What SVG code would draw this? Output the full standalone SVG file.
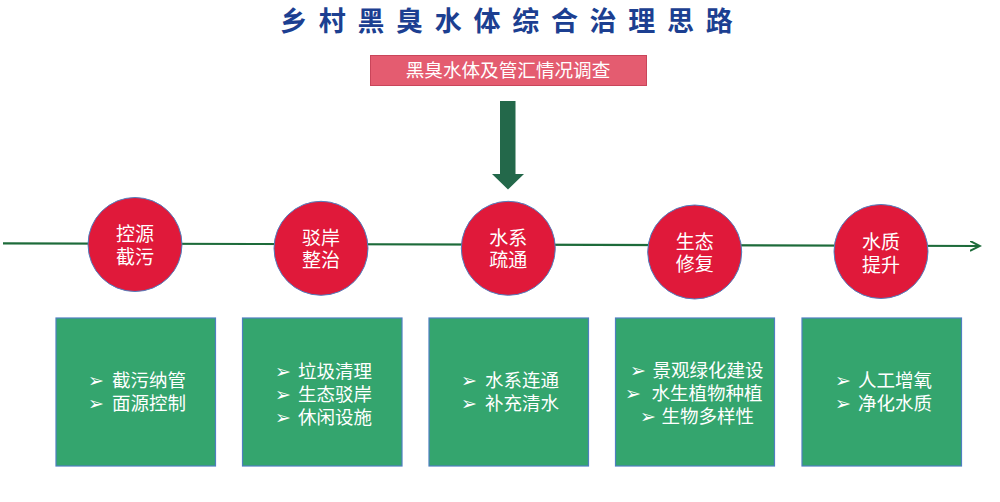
<svg xmlns="http://www.w3.org/2000/svg" width="1000" height="502" viewBox="0 0 1000 502">
<style>
.cjk{font-family:"Noto Sans CJK SC","Noto Sans",sans-serif;}
.title{font-size:27px;font-weight:bold;fill:#1c3f91;letter-spacing:11.7px;}
.ctext{font-size:19px;fill:#ffffff;text-anchor:middle;}
.btext{font-size:18.5px;fill:#ffffff;}
.bul{font-family:"DejaVu Sans",sans-serif;font-size:19px;fill:#ffffff;}
.circ{fill:#e0193a;stroke:#4f7fc0;stroke-width:1;}
.box{fill:#34a56e;stroke:#4f7fc0;stroke-width:1.2;}
</style>
<defs>
<marker id="open" markerWidth="12" markerHeight="12" refX="10" refY="5" orient="auto" markerUnits="userSpaceOnUse">
<path d="M0,0 L10,5 L0,10" fill="none" stroke="#1d6b3a" stroke-width="2"/>
</marker>
</defs>
<rect width="1000" height="502" fill="#ffffff"/>
<text id="title" class="cjk title" x="280" y="31">乡村黑臭水体综合治理思路</text>
<g id="connectors">
<line x1="3" y1="243.3" x2="980" y2="246" stroke="#1d6b3a" stroke-width="2.2" marker-end="url(#open)"/>
<polygon points="500,101 515.5,101 515.5,174 524,174 508,189.5 492,174 500,174" fill="#23684a"/>
</g>
<g id="survey">
<rect x="370.5" y="55.5" width="276" height="30" fill="#e45c70" stroke="#c9455a" stroke-width="1"/>
<text class="cjk" x="508" y="77" font-size="18.6" fill="#ffffff" text-anchor="middle">黑臭水体及管汇情况调查</text>
</g>
<g id="c1"><circle class="circ" cx="135" cy="244.5" r="47"/><text class="cjk ctext"><tspan x="135" y="241">控源</tspan><tspan x="135" y="263.5">截污</tspan></text></g>
<g id="c2"><circle class="circ" cx="321" cy="248.3" r="47"/><text class="cjk ctext"><tspan x="321" y="245">驳岸</tspan><tspan x="321" y="267">整治</tspan></text></g>
<g id="c3"><circle class="circ" cx="508.3" cy="248.3" r="47"/><text class="cjk ctext"><tspan x="508.3" y="245">水系</tspan><tspan x="508.3" y="267">疏通</tspan></text></g>
<g id="c4"><circle class="circ" cx="694.7" cy="252" r="47"/><text class="cjk ctext"><tspan x="694.7" y="248.5">生态</tspan><tspan x="694.7" y="270.5">修复</tspan></text></g>
<g id="c5"><circle class="circ" cx="881" cy="251.5" r="47"/><text class="cjk ctext"><tspan x="881" y="248.5">水质</tspan><tspan x="881" y="271.5">提升</tspan></text></g>
<g id="b1"><rect class="box" x="56" y="318" width="159.5" height="148"/>
<text class="bul" x="88" y="387">➢</text><text class="cjk btext" x="112" y="387">截污纳管</text>
<text class="bul" x="88" y="410">➢</text><text class="cjk btext" x="112" y="410">面源控制</text></g>
<g id="b2"><rect class="box" x="242.5" y="318" width="159.5" height="148"/>
<text class="bul" x="275" y="377.5">➢</text><text class="cjk btext" x="298" y="377.5">垃圾清理</text>
<text class="bul" x="275" y="400.5">➢</text><text class="cjk btext" x="298" y="400.5">生态驳岸</text>
<text class="bul" x="275" y="423.5">➢</text><text class="cjk btext" x="298" y="423.5">休闲设施</text></g>
<g id="b3"><rect class="box" x="429" y="318" width="159.5" height="148"/>
<text class="bul" x="461" y="387">➢</text><text class="cjk btext" x="485" y="387">水系连通</text>
<text class="bul" x="461" y="410">➢</text><text class="cjk btext" x="485" y="410">补充清水</text></g>
<g id="b4"><rect class="box" x="615.5" y="318" width="159" height="148"/>
<text class="bul" x="630" y="377">➢</text><text class="cjk btext" x="652.5" y="377">景观绿化建设</text>
<text class="bul" x="625" y="400">➢</text><text class="cjk btext" x="651.5" y="400">水生植物种植</text>
<text class="bul" x="640" y="423">➢</text><text class="cjk btext" x="661.5" y="423">生物多样性</text></g>
<g id="b5"><rect class="box" x="802" y="318" width="159.5" height="148"/>
<text class="bul" x="835" y="387">➢</text><text class="cjk btext" x="858" y="387">人工增氧</text>
<text class="bul" x="835" y="410">➢</text><text class="cjk btext" x="858" y="410">净化水质</text></g>
</svg>
